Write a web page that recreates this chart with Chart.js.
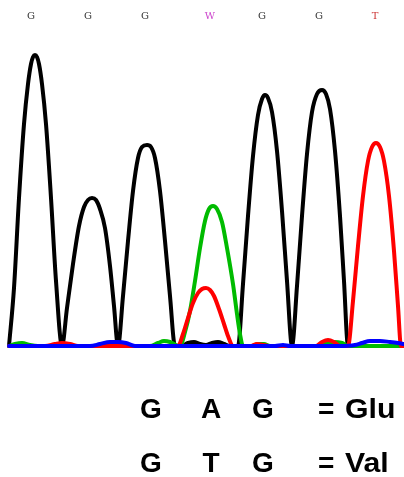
<!DOCTYPE html>
<html>
<head>
<meta charset="utf-8">
<script src="https://cdn.jsdelivr.net/npm/chart.js@4"></script>
<style>
  html, body { margin: 0; padding: 0; background: #fff; }
  #trace { display: block; }
</style>
</head>
<body>
<canvas id="trace" width="404" height="477"></canvas>
<script>
// ============================================================
//  DONNÉES — chromatogramme (position de scan, intensité)
// ============================================================
const blackTrace = [
  [9,0],[14,58],[19,148],[24,222],[28,262],[31,282],[33,289],[35,291],[37,289],[39,282],[42,262],[46,222],[51,148],[56,65],[62,0],
  [67,38],[73,82],[79,120],[84,139],[88,146],[92,148],[96,146],[100,137],[105,118],[110,80],[114,40],[118,0],
  [123,50],[128,105],[133,155],[138,188],[142,199],[147,201],[151,199],[155,188],[160,155],[165,105],[170,50],[175,0],
  [181,0],[188,3],[194,4],[200,2],[206,1],[212,3],[218,4],[224,2],[230,0],[238,0],
  [243,62],[248,130],[253,190],[258,231],[262,247],[265,251],[268,248],[272,234],[277,195],[282,135],[287,65],[292,0],
  [297,60],[302,130],[307,192],[312,234],[317,252],[322,256],[326,252],[330,237],[335,195],[340,130],[344,65],[348,0],
  [404,0]
];
const greenTrace = [
  [9,0],[15,2],[22,3],[30,1],[38,0],[150,0],[158,3],[164,5],[170,4],[176,1],[180,0],
  [185,14],[190,35],[195,65],[200,98],[205,125],[209,137],[213,140],[217,137],[222,124],[227,98],[233,62],[237,32],[240,12],[243,0],
  [252,0],[258,2],[264,2],[270,0],[318,0],[326,3],[334,4],[342,3],[348,0],[404,0]
];
const redTrace = [
  [9,0],[45,0],[55,2],[62,3],[70,2],[78,0],[178,0],
  [183,12],[188,28],[193,43],[198,53],[202,57],[206,58],[210,56],[214,50],[219,37],[224,22],[228,10],[233,0],
  [250,0],[257,2],[264,1],[270,0],[316,0],[322,4],[328,6],[334,4],[340,0],[348,0],
  [353,45],[358,100],[363,150],[368,185],[372,199],[376,203],[380,199],[384,185],[389,150],[394,95],[398,40],[401,0],[404,0]
];
const blueTrace = [
  [9,0],[90,0],[100,2],[110,4],[118,4],[126,3],[135,0],[275,0],[283,1],[290,0],[340,0],
  [355,1],[362,3],[370,5],[380,5],[390,4],[398,3],[404,2]
];

// appels de bases en haut
const baseCalls   = ['G', 'G', 'G', 'W', 'G', 'G', 'T'];
const callPos     = [31, 88, 145, 210, 262, 319, 375];
const callColors  = ['#333', '#333', '#333', '#cc44cc', '#333', '#333', '#cc3333'];

// codons en bas
const codonRows = [
  { bases: ['G', 'A', 'G'], sign: '=', aa: 'Glu' },
  { bases: ['G', 'T', 'G'], sign: '=', aa: 'Val' }
];

// ============================================================
//  TEXTES (appels + codons)
// ============================================================
const textPlugin = {
  id: 'texts',
  afterDraw(chart) {
    const ctx = chart.ctx;
    const xs = chart.scales.x;
    ctx.save();
    ctx.textAlign = 'center';
    ctx.textBaseline = 'alphabetic';
    ctx.font = '10px "DejaVu Serif", serif';
    baseCalls.forEach((b, i) => {
      ctx.fillStyle = callColors[i];
      ctx.fillText(b, xs.getPixelForValue(callPos[i]), 19);
    });

    ctx.fillStyle = '#000';
    ctx.font = 'bold 28px "Liberation Sans", Arial, sans-serif';
    const colX = [151, 211, 263];
    const rowY = [418, 472];
    codonRows.forEach((row, r) => {
      ctx.textAlign = 'center';
      row.bases.forEach((b, i) => ctx.fillText(b, colX[i], rowY[r]));
      ctx.textAlign = 'left';
      ctx.fillText(row.sign, 318, rowY[r]);
      ctx.save();
      ctx.translate(345, rowY[r]);
      ctx.scale(1.08, 1);
      ctx.fillText(row.aa, 0, 0);
      ctx.restore();
    });
    ctx.restore();
  }
};

function traceSet(points, color, order) {
  return {
    data: points.map(p => ({ x: p[0], y: p[1] })),
    borderColor: color,
    borderWidth: 4,
    pointRadius: 0,
    cubicInterpolationMode: 'monotone',
    borderJoinStyle: 'round',
    borderCapStyle: 'round',
    fill: false,
    clip: false,
    order: order
  };
}

new Chart(document.getElementById('trace').getContext('2d'), {
  type: 'line',
  data: {
    datasets: [
      traceSet(blueTrace,  '#0000ff', 0),
      traceSet(redTrace,   '#ff0000', 1),
      traceSet(greenTrace, '#00bb00', 2),
      traceSet(blackTrace, '#000000', 3)
    ]
  },
  options: {
    responsive: false,
    animation: false,
    devicePixelRatio: 1,
    layout: { padding: { top: 0, left: 0, right: 0, bottom: 131 } },
    plugins: { legend: { display: false }, tooltip: { enabled: false } },
    scales: {
      x: { type: 'linear', min: 0, max: 404, display: false },
      y: { min: 0, max: 346, display: false }
    }
  },
  plugins: [textPlugin]
});
</script>
</body>
</html>
